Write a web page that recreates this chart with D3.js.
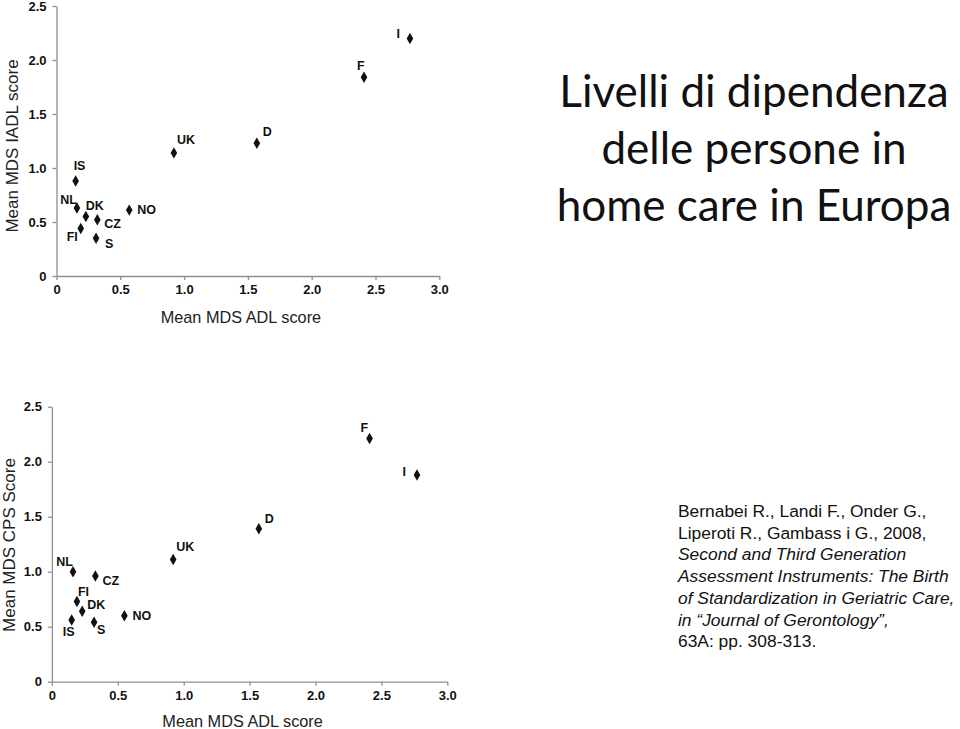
<!DOCTYPE html>
<html><head><meta charset="utf-8">
<script src="https://cdn.jsdelivr.net/npm/d3@7"></script>
<style>
body{margin:0;background:#fff;}
svg{display:block;}
</style></head>
<body>
<svg id="chart" width="960" height="729"></svg>
<script>
// ---- data ----
const countries = ["IS","NL","DK","CZ","FI","S","NO","UK","D","F","I"];
const adlTop    = [0.15,0.16,0.23,0.32,0.19,0.31,0.57,0.92,1.57,2.41,2.77];
const iadl      = [0.88,0.63,0.55,0.52,0.44,0.35,0.61,1.14,1.23,1.84,2.20];
const adlBottom = [0.15,0.16,0.23,0.33,0.19,0.32,0.55,0.92,1.57,2.41,2.77];
const cps       = [0.56,1.00,0.64,0.96,0.73,0.54,0.60,1.11,1.39,2.21,1.88];
const xTicks = [0,0.5,1.0,1.5,2.0,2.5,3.0];
const yTicks = [0,0.5,1.0,1.5,2.0,2.5];
const titleLines = ["Livelli di dipendenza","delle persone in","home care in Europa"];
const citation = [
  {t:"Bernabei R., Landi F., Onder G.,", i:false},
  {t:"Liperoti R., Gambass i G., 2008,", i:false},
  {t:"Second and Third Generation", i:true},
  {t:"Assessment Instruments: The Birth", i:true},
  {t:"of Standardization in Geriatric Care,", i:true},
  {t:"in \u201cJournal of Gerontology\u201d,", i:true},
  {t:"63A: pp. 308-313.", i:false}
];

const svg = d3.select("#chart");
const fmt = d => d === 0 ? "0" : d3.format(".1f")(d);
const FONT = "Liberation Sans, Arial, sans-serif";

function scatter(cfg){
  const g = svg.append("g");
  const x = d3.scaleLinear().domain([0,3]).range(cfg.xr);
  const y = d3.scaleLinear().domain([0,2.5]).range(cfg.yr);
  const xa = g.append("g").attr("transform",`translate(0,${cfg.yr[0]})`)
    .call(d3.axisBottom(x).tickValues(xTicks).tickFormat(fmt).tickSize(4).tickSizeOuter(0).tickPadding(5));
  const ya = g.append("g").attr("transform",`translate(${cfg.xr[0]},0)`)
    .call(d3.axisLeft(y).tickValues(yTicks).tickFormat(fmt).tickSize(4).tickSizeOuter(0).tickPadding(6));
  [xa,ya].forEach(a=>{
    a.selectAll("path,line").attr("stroke","#8f8f8f").attr("stroke-width",1.3);
    a.selectAll("text").attr("font-family",FONT)
      .attr("font-weight","bold").attr("font-size",13).attr("fill","#111");
  });
  g.append("text").attr("x",(cfg.xr[0]+cfg.xr[1])/2-7).attr("y",cfg.xTitleY)
    .attr("text-anchor","middle").attr("font-family",FONT)
    .attr("font-size",16.3).attr("fill","#222").text("Mean MDS ADL score");
  g.append("text").attr("transform",`translate(${cfg.yTitleX},${cfg.yTitleMid}) rotate(-90)`)
    .attr("text-anchor","middle").attr("font-family",FONT)
    .attr("font-size",17).attr("fill","#222").text(cfg.yTitle);
  const pts = countries.map((c,i)=>({c, x:cfg.xs[i], y:cfg.ys[i]}));
  const sym = d3.symbol().type(d3.symbolDiamond).size(38);
  g.selectAll("path.pt").data(pts).join("path").attr("class","pt")
    .attr("transform",d=>`translate(${x(d.x)},${y(d.y)})`).attr("d",sym).attr("fill","#111");
  g.selectAll("text.lab").data(pts).join("text").attr("class","lab")
    .attr("x",d=>x(d.x)+cfg.off[d.c][0]).attr("y",d=>y(d.y)+cfg.off[d.c][1])
    .attr("text-anchor",d=>cfg.off[d.c][2]||"start")
    .attr("font-family",FONT).attr("font-weight","bold")
    .attr("font-size",12.5).attr("fill","#111").text(d=>d.c);
}

scatter({
  xr:[56.5,439.3], yr:[276,6], xs:adlTop, ys:iadl,
  xTitleY:323, yTitleX:18, yTitleMid:146, yTitle:"Mean MDS IADL score",
  off:{IS:[-2,-11],NL:[0,-4,"end"],DK:[0,-7],CZ:[7,8],FI:[-3,13,"end"],S:[9,10],
       NO:[8,4],UK:[3,-9],D:[6,-7],F:[-7,-7],I:[-10,0,"end"]}
});
scatter({
  xr:[51.9,447.3], yr:[681.7,406.7], xs:adlBottom, ys:cps,
  xTitleY:727, yTitleX:15, yTitleMid:545, yTitle:"Mean MDS CPS Score",
  off:{NL:[0,-6,"end"],CZ:[7,9],FI:[1,-5],DK:[5,-2],IS:[3,16,"end"],S:[3,12],
       NO:[8,4],UK:[3,-9],D:[6,-6],F:[-9,-7],I:[-11,1,"end"]}
});

// title
svg.append("g").selectAll("text").data(titleLines).join("text")
  .attr("x",754).attr("y",(d,i)=>107+i*57).attr("text-anchor","middle")
  .attr("font-family","Lato, Open Sans, sans-serif").attr("font-size",44).attr("fill","#111")
  .text(d=>d);

// citation
svg.append("g").selectAll("text").data(citation).join("text")
  .attr("x",678).attr("y",(d,i)=>517+i*21.7)
  .attr("font-family",FONT).attr("font-size",17.4)
  .attr("font-style",d=>d.i?"italic":"normal").attr("fill","#111").text(d=>d.t);
</script>
</body></html>
